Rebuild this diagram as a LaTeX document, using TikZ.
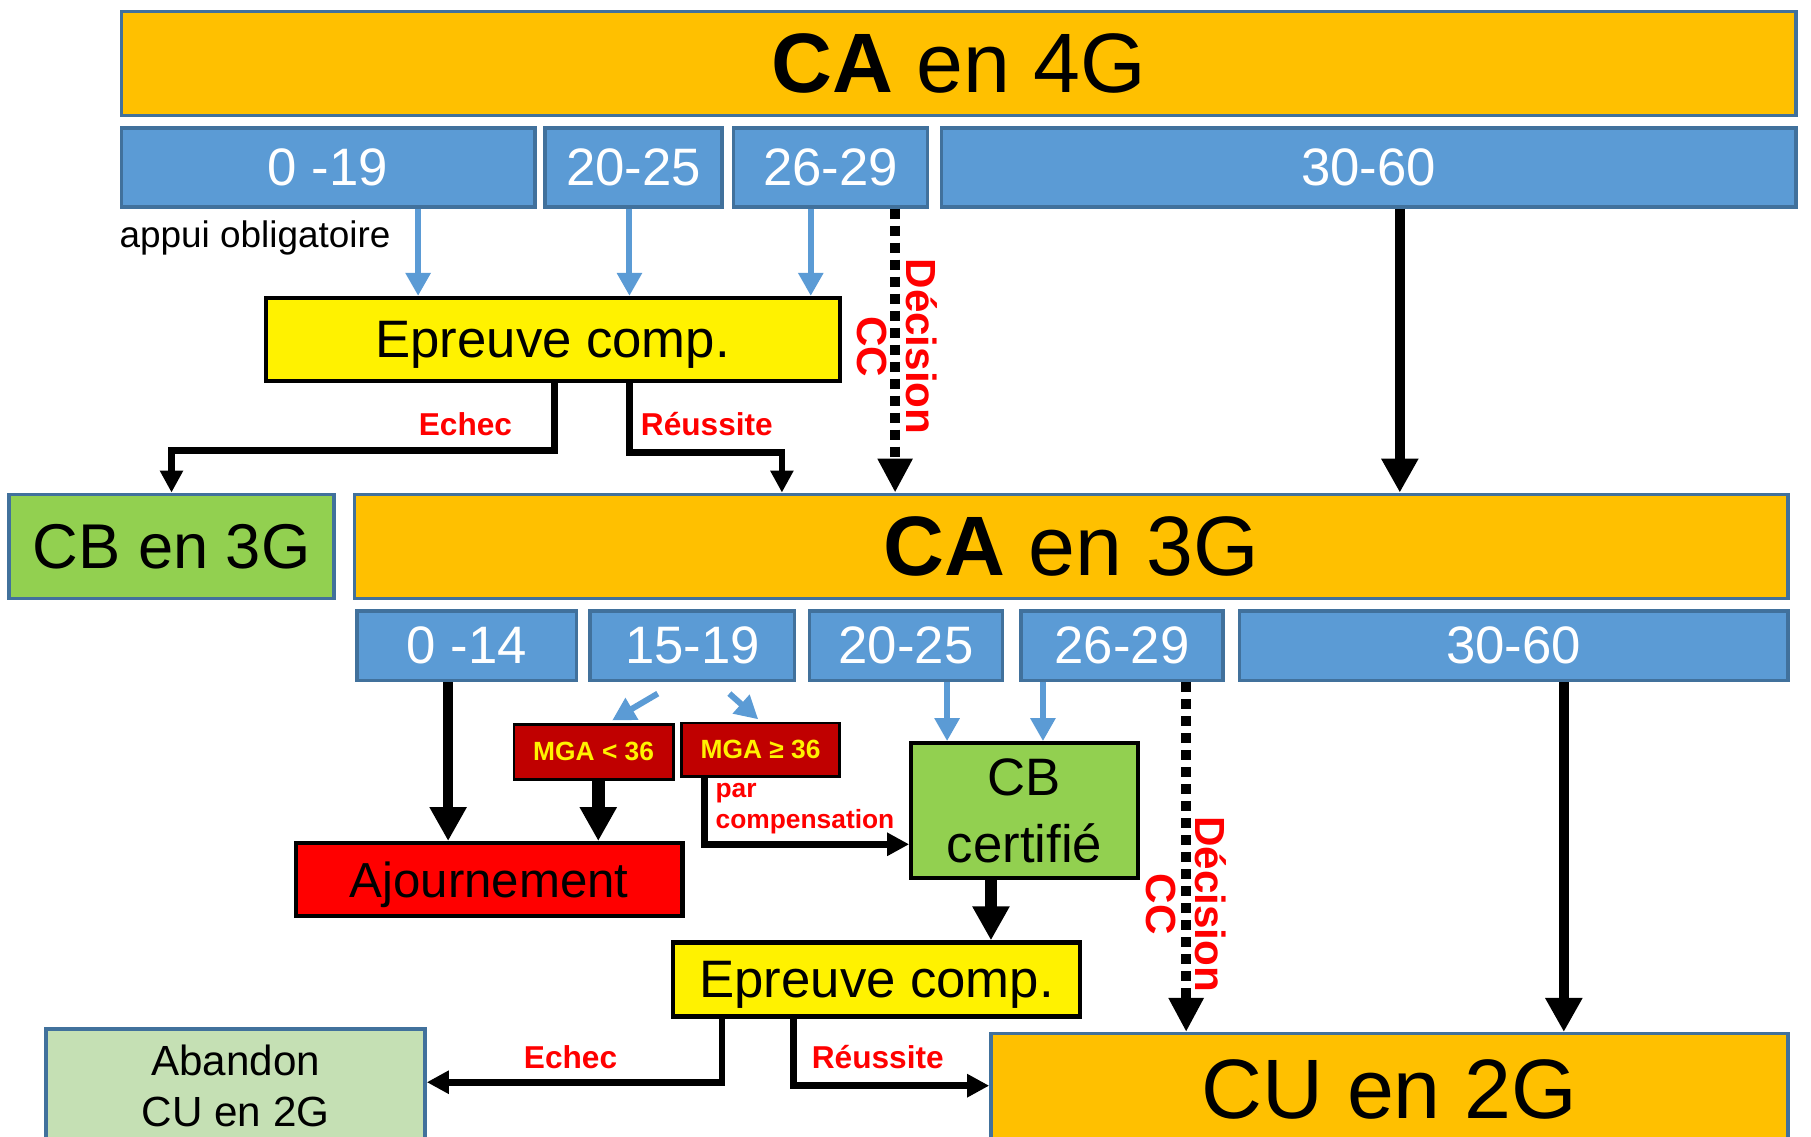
\documentclass[tikz,border=0pt]{standalone}
\usepackage{fontspec}
\setmainfont{Liberation Sans}
\usetikzlibrary{arrows.meta,positioning,calc}
\definecolor{ca-orange}{HTML}{FFC000}
\definecolor{range-blue}{HTML}{5B9BD5}
\definecolor{edge-blue}{HTML}{41719C}
\definecolor{cb-green}{HTML}{92D050}
\definecolor{pale-green}{HTML}{C5E0B4}
\definecolor{mga-red}{HTML}{C00000}

\begin{document}
\begin{tikzpicture}[x=0.01155cm, y=-0.01155cm,
    wh/.style n args={2}{minimum width=#1*0.01155cm, minimum height=#2*0.01155cm},
    bluebox/.style={inner sep=0pt, draw=edge-blue, line width=1pt},
    cabox/.style={bluebox, fill=ca-orange, font=\fontsize{24}{28}\selectfont},
    rangebox/.style={bluebox, fill=range-blue, text=white, font=\fontsize{15}{18}\selectfont},
    darkbox/.style={inner sep=0pt, draw=black, line width=1.2pt},
    exambox/.style={darkbox, fill=yellow, text depth=0pt, font=\fontsize{15}{18}\selectfont},
    mgabox/.style={darkbox, line width=0.8pt, fill=mga-red, text=yellow, font=\fontsize{7.5}{9}\selectfont\bfseries},
    redlabel/.style={text=red, inner sep=0pt, font=\fontsize{9}{11}\selectfont\bfseries},
    cclabel/.style={text=red, inner sep=0pt, rotate=-90, align=center, font=\fontsize{12}{14}\selectfont\bfseries},
    bluearrow/.style={draw=range-blue, line width=1.7pt, -{Triangle[width=0.24cm,length=0.23cm]}},
    flowarrow/.style={line width=1.9pt, -{Triangle[width=0.22cm,length=0.22cm]}},
    bigarrow/.style={line width=3pt, -{Triangle[width=0.35cm,length=0.34cm]}},
    ccarrow/.style={line width=3pt, dash pattern=on 0.1cm off 0.07cm, -{Triangle[width=0.33cm,length=0.34cm]}}]

    \useasboundingbox (0,0) rectangle (1568,984.4);
    \clip (0,0) rectangle (1568,984.4);

    % 4G
    \node[cabox, wh={1450}{90}] (ca4) at (830,55) {\textbf{CA} en 4G};
    \node[rangebox, wh={358}{68}] (r019) at (284,145) {0 -19};
    \node[rangebox, wh={153}{68}] (r2025) at (548.5,145) {20-25};
    \node[rangebox, wh={168}{68}] (r2629) at (719,145) {26-29};
    \node[rangebox, wh={740}{68}] (r3060) at (1185,145) {30-60};
    \node[anchor=west, inner sep=0pt, font=\fontsize{10.5}{12}\selectfont] (appui) at (103,206) {appui obligatoire};

    \node[exambox, wh={497}{72}] (ep1) at (478.5,294) {Epreuve comp.};

    \coordinate (a1) at (362,0);
    \coordinate (a2) at (545,0);
    \coordinate (a3) at (702,0);
    \draw[bluearrow] (r019.south -| a1) -- (ep1.north -| a1);
    \draw[bluearrow] (r2025.south -| a2) -- (ep1.north -| a2);
    \draw[bluearrow] (r2629.south -| a3) -- (ep1.north -| a3);

    % 3G
    \node[bluebox, fill=cb-green, wh={281}{90}, font=\fontsize{18}{21}\selectfont] (cb3) at (148.5,473) {CB en 3G};
    \node[cabox, wh={1241}{90}] (ca3) at (927.5,473) {\textbf{CA} en 3G};

    \coordinate (e1) at (480,390);
    \coordinate (s1) at (545,392);
    \coordinate (s1e) at (677,0);
    \draw[flowarrow] (ep1.south -| e1) -- (e1) -| (cb3.north);
    \draw[flowarrow] (ep1.south -| s1) -- (s1) -| (ca3.north -| s1e);
    \node[redlabel] (echec1) at (403,367) {Echec};
    \node[redlabel] (reuss1) at (612,367) {Réussite};

    \coordinate (d1) at (775,0);
    \coordinate (k1) at (1212,0);
    \draw[ccarrow] (r2629.south -| d1) -- (ca3.north -| d1);
    \node[cclabel] (cc1) at (777,300) {Décision\\CC};
    \draw[bigarrow] (r3060.south -| k1) -- (ca3.north -| k1);

    \node[rangebox, wh={190}{60}] (s014) at (404,559) {0 -14};
    \node[rangebox, wh={177}{60}] (s1519) at (599.5,559) {15-19};
    \node[rangebox, wh={167}{60}] (s2025) at (784.5,559) {20-25};
    \node[rangebox, wh={175}{60}] (s2629) at (971.5,559) {26-29};
    \node[rangebox, wh={475}{60}] (s3060) at (1310.5,559) {30-60};

    \node[mgabox, wh={138}{48}] (mgalo) at (514,651) {MGA < 36};
    \node[mgabox, wh={137}{46}] (mgahi) at (658.5,649) {MGA ≥ 36};
    \node[darkbox, fill=red, wh={335}{63}, text depth=0pt, font=\fontsize{14}{17}\selectfont] (ajour) at (423.5,761.5) {Ajournement};
    \node[darkbox, fill=cb-green, wh={196}{117}, align=center, font=\fontsize{15}{18}\selectfont] (cbc) at (887,702) {CB\\[1pt] certifié};

    \draw[bluearrow] ($(s1519.south)+(-30,10)$) -- ($(mgalo.north)+(16,-2)$);
    \draw[bluearrow] ($(s1519.south)+(32,10)$) -- ($(mgahi.north)+(-2,-2)$);

    \coordinate (k2) at (388,0);
    \coordinate (k3) at (518,0);
    \draw[bigarrow] (s014.south -| k2) -- (ajour.north -| k2);
    \draw[bigarrow, line width=3.8pt] (mgalo.south -| k3) -- (ajour.north -| k3);

    \coordinate (pc) at (610,731);
    \draw[flowarrow] (mgahi.south -| pc) |- (cbc.west |- pc);
    \node[redlabel, anchor=west, align=left, font=\fontsize{7.5}{9}\selectfont\bfseries] (comp) at (619,700) {par\\compensation};

    \coordinate (a4) at (820,0);
    \coordinate (a5) at (903,0);
    \draw[bluearrow] (s2025.south -| a4) -- (cbc.north -| a4);
    \draw[bluearrow] (s2629.south -| a5) -- (cbc.north -| a5);

    % 2G
    \node[exambox, wh={352}{64}] (ep2) at (759,848) {Epreuve comp.};
    \node[cabox, wh={690}{96}] (cu2) at (1203,943) {CU en 2G};
    \node[bluebox, fill=pale-green, wh={328}{98}, align=center, font=\fontsize{12}{14.5}\selectfont] (aband) at (204,940) {Abandon\\CU en 2G};

    \coordinate (k4) at (858,0);
    \draw[bigarrow, line width=3.5pt] (cbc.south -| k4) -- (ep2.north -| k4);

    \coordinate (d2) at (1027,0);
    \coordinate (k5) at (1354,0);
    \draw[ccarrow] (s2629.south -| d2) -- (cu2.north -| d2);
    \node[cclabel] (cc2) at (1027,783) {Décision\\CC};
    \draw[bigarrow] (s3060.south -| k5) -- (cu2.north -| k5);

    \coordinate (e2) at (625,937);
    \coordinate (s2) at (687,940);
    \draw[flowarrow] (ep2.south -| e2) |- (aband.east |- e2);
    \draw[flowarrow] (ep2.south -| s2) |- (cu2.west |- s2);
    \node[redlabel] (echec2) at (494,915) {Echec};
    \node[redlabel] (reuss2) at (760,915) {Réussite};
\end{tikzpicture}
\end{document}
